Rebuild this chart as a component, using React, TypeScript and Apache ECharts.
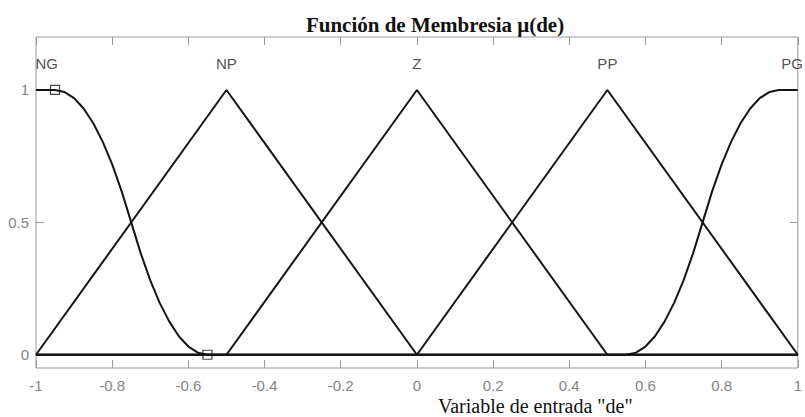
import React, { useEffect, useRef } from "react";
import * as echarts from "echarts";

// Membership function "NG" (Z-shaped), sampled points [x, mu]
const ngPoints: number[][] = [
  [-1, 1], [-0.95, 1], [-0.925, 0.992], [-0.9, 0.969], [-0.875, 0.93], [-0.85, 0.875],
  [-0.825, 0.805], [-0.8, 0.719], [-0.775, 0.617], [-0.75, 0.5], [-0.725, 0.383],
  [-0.7, 0.281], [-0.675, 0.195], [-0.65, 0.125], [-0.625, 0.07], [-0.6, 0.031],
  [-0.575, 0.008], [-0.55, 0], [1, 0],
];
// Triangular functions: [x, mu]
const npPoints: number[][] = [[-1, 0], [-0.5, 1], [0, 0], [1, 0]];
const zPoints: number[][] = [[-1, 0], [-0.5, 0], [0, 1], [0.5, 0], [1, 0]];
const ppPoints: number[][] = [[-1, 0], [0, 0], [0.5, 1], [1, 0]];
// Membership function "PG" (S-shaped)
const pgPoints: number[][] = [
  [-1, 0], [0.55, 0], [0.575, 0.008], [0.6, 0.031], [0.625, 0.07], [0.65, 0.125],
  [0.675, 0.195], [0.7, 0.281], [0.725, 0.383], [0.75, 0.5], [0.775, 0.617],
  [0.8, 0.719], [0.825, 0.805], [0.85, 0.875], [0.875, 0.93], [0.9, 0.969],
  [0.925, 0.992], [0.95, 1], [1, 1],
];
// Square markers on the NG curve
const ngMarkers: number[][] = [[-0.95, 1], [-0.55, 0]];
// Set names placed above each function's peak
const mfLabels: (number | string)[][] = [
  [-0.972, 1.1, "NG"],
  [-0.5, 1.1, "NP"],
  [0, 1.1, "Z"],
  [0.5, 1.1, "PP"],
  [0.985, 1.1, "PG"],
];
const xTicks = [-1, -0.8, -0.6, -0.4, -0.2, 0, 0.2, 0.4, 0.6, 0.8, 1];
const yTicks = [0, 0.5, 1];

const lineColor = "#141414";
const axisGray = "#9a9a9a";
const labelGray = "#858585";

export default function App() {
  const ref = useRef<HTMLDivElement>(null);

  useEffect(() => {
    if (!ref.current) return;
    const chart = echarts.init(ref.current, null, { renderer: "svg" });

    const mfLine = (name: string, data: number[][]) => ({
      name,
      type: "line",
      data,
      smooth: false,
      symbol: "none",
      lineStyle: { color: lineColor, width: 2 },
      z: 3,
    });

    const xBase = {
      type: "value",
      min: -1,
      max: 1,
      interval: 0.2,
      splitLine: { show: false },
      axisLine: { show: false, onZero: false },
      axisTick: { show: true, inside: true, length: 8, lineStyle: { color: axisGray } },
    };
    const yBase = {
      type: "value",
      min: -0.05,
      max: 1.2,
      splitLine: { show: false },
      axisLine: { show: false, onZero: false },
      axisTick: {
        show: true,
        inside: true,
        length: 8,
        customValues: yTicks,
        lineStyle: { color: axisGray },
      },
    };

    chart.setOption({
      animation: false,
      backgroundColor: "#ffffff",
      title: {
        text: "Función de Membresia μ(de)",
        left: 430,
        textAlign: "center",
        top: 9,
        textStyle: {
          fontFamily: "Liberation Serif",
          fontWeight: "bold",
          fontSize: 21,
          color: "#111",
        },
      },
      graphic: [
        {
          type: "text",
          left: 438,
          top: 396,
          style: {
            text: 'Variable de entrada "de"',
            fontFamily: "Liberation Serif",
            fontSize: 20,
            fill: "#111",
            textAlign: "center",
          },
        },
      ],
      grid: {
        left: 36,
        right: 3,
        top: 37,
        bottom: 49,
        show: true,
        borderColor: axisGray,
        borderWidth: 1,
        backgroundColor: "transparent",
      },
      xAxis: [
        {
          ...xBase,
          position: "bottom",
          axisLabel: {
            show: true,
            margin: 10,
            fontFamily: "Liberation Sans",
            fontSize: 15,
            color: labelGray,
            customValues: xTicks,
            formatter: (v: number) => String(Math.round(v * 10) / 10),
          },
        },
        { ...xBase, position: "top", axisLabel: { show: false } },
      ],
      yAxis: [
        {
          ...yBase,
          position: "left",
          axisLabel: {
            show: true,
            margin: 7,
            fontFamily: "Liberation Sans",
            fontSize: 15,
            color: labelGray,
            customValues: yTicks,
          },
        },
        { ...yBase, position: "right", axisLabel: { show: false } },
      ],
      series: [
        mfLine("NG", ngPoints),
        mfLine("NP", npPoints),
        mfLine("Z", zPoints),
        mfLine("PP", ppPoints),
        mfLine("PG", pgPoints),
        {
          name: "markers",
          type: "scatter",
          data: ngMarkers,
          symbol: "rect",
          symbolSize: 9,
          itemStyle: { color: "none", borderColor: lineColor, borderWidth: 1.2 },
          z: 4,
        },
        {
          name: "labels",
          type: "scatter",
          data: mfLabels,
          symbolSize: 0,
          label: {
            show: true,
            position: "inside",
            formatter: (p: any) => p.value[2],
            fontFamily: "Liberation Sans",
            fontSize: 15,
            color: "#222",
          },
          z: 5,
        },
      ],
    });

    return () => chart.dispose();
  }, []);

  return (
    <div
      ref={ref}
      style={{ position: "fixed", left: 0, top: 0, width: 805, height: 417 }}
    />
  );
}
